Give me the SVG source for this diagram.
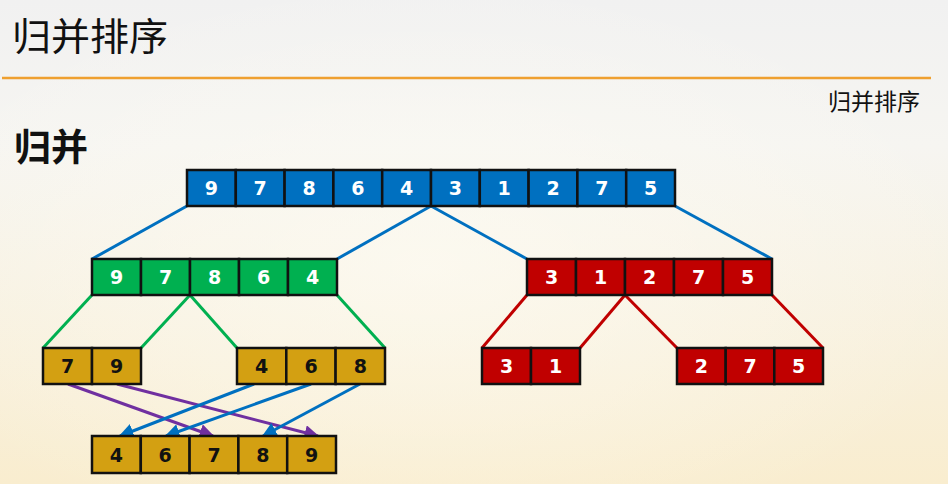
<svg xmlns="http://www.w3.org/2000/svg" width="948" height="484" viewBox="0 0 948 484">
<defs>
<linearGradient id="bg" x1="0" y1="0" x2="0" y2="1">
<stop offset="0" stop-color="#f1f1f1"/>
<stop offset="0.3" stop-color="#f6f5f1"/>
<stop offset="1" stop-color="#f9edcf"/>
</linearGradient>
<radialGradient id="glow" cx="0.45" cy="0.55" r="0.6">
<stop offset="0" stop-color="#fffdf5" stop-opacity="0.6"/>
<stop offset="1" stop-color="#fffdf5" stop-opacity="0"/>
</radialGradient>
<marker id="ab" viewBox="0 0 10 10" refX="9" refY="5" markerWidth="5" markerHeight="5" orient="auto" markerUnits="strokeWidth">
<path d="M0,0 L10,5 L0,10 z" fill="#0070C0"/>
</marker>
<marker id="ap" viewBox="0 0 10 10" refX="9" refY="5" markerWidth="5" markerHeight="5" orient="auto" markerUnits="strokeWidth">
<path d="M0,0 L10,5 L0,10 z" fill="#7030A0"/>
</marker>
</defs>
<style>
.c rect{stroke:#111;stroke-width:2.5}
.blue rect{fill:#0070C0}
.green rect{fill:#00B050}
.red rect{fill:#C00000}
.gold rect{fill:#D3A012}
.c text{font-family:'DejaVu Sans',sans-serif;font-weight:700;font-size:19px;text-anchor:middle}
.blue text,.green text,.red text{fill:#fff}
.gold text{fill:#111}
.lb{stroke:#0070C0;stroke-width:3;fill:none}
.lg{stroke:#00B050;stroke-width:3;fill:none}
.lr{stroke:#C00000;stroke-width:3;fill:none}
.lp{stroke:#7030A0;stroke-width:3;fill:none}
</style>
<rect width="948" height="484" fill="url(#bg)"/>
<rect width="948" height="484" fill="url(#glow)"/>
<g id="header">
<text x="12" y="50" font-family="Noto Sans CJK SC, sans-serif" font-size="38" font-weight="400" fill="#111" textLength="156" lengthAdjust="spacingAndGlyphs">归并排序</text>
<line x1="2" y1="78" x2="931" y2="78" stroke="#EFA030" stroke-width="2.5"/>
<text x="920" y="110" text-anchor="end" font-family="Noto Sans CJK SC, sans-serif" font-size="23" fill="#111">归并排序</text>
<text x="14" y="161" font-family="Noto Sans CJK SC, sans-serif" font-size="37" font-weight="bold" fill="#111">归并</text>
</g>
<g id="connectors">
<line class="lb" x1="187" y1="206" x2="92" y2="259"/>
<line class="lb" x1="431" y1="206" x2="337" y2="259"/>
<line class="lb" x1="431" y1="206" x2="527" y2="259"/>
<line class="lb" x1="675" y1="206" x2="772" y2="259"/>
<line class="lg" x1="92" y1="295" x2="43" y2="348"/>
<line class="lg" x1="190" y1="295" x2="141" y2="348"/>
<line class="lg" x1="190" y1="295" x2="237" y2="348"/>
<line class="lg" x1="337" y1="295" x2="385" y2="348"/>
<line class="lr" x1="527" y1="295" x2="482" y2="348"/>
<line class="lr" x1="625" y1="295" x2="580" y2="348"/>
<line class="lr" x1="625" y1="295" x2="677" y2="348"/>
<line class="lr" x1="772" y1="295" x2="823" y2="348"/>
<line class="lp" x1="68" y1="384" x2="213" y2="436" marker-end="url(#ap)"/>
<line class="lp" x1="117" y1="384" x2="318" y2="436" marker-end="url(#ap)"/>
<line class="lb" x1="254" y1="384" x2="120" y2="436" marker-end="url(#ab)"/>
<line class="lb" x1="311" y1="384" x2="166" y2="436" marker-end="url(#ab)"/>
<line class="lb" x1="360" y1="384" x2="263" y2="436" marker-end="url(#ab)"/>
</g>
<g id="row-top" class="c blue">
<rect x="187" y="170" width="48.8" height="36"/><text x="211.4" y="195">9</text>
<rect x="235.8" y="170" width="48.8" height="36"/><text x="260.2" y="195">7</text>
<rect x="284.6" y="170" width="48.8" height="36"/><text x="309" y="195">8</text>
<rect x="333.4" y="170" width="48.8" height="36"/><text x="357.8" y="195">6</text>
<rect x="382.2" y="170" width="48.8" height="36"/><text x="406.6" y="195">4</text>
<rect x="431" y="170" width="48.8" height="36"/><text x="455.4" y="195">3</text>
<rect x="479.8" y="170" width="48.8" height="36"/><text x="504.2" y="195">1</text>
<rect x="528.6" y="170" width="48.8" height="36"/><text x="553" y="195">2</text>
<rect x="577.4" y="170" width="48.8" height="36"/><text x="601.8" y="195">7</text>
<rect x="626.2" y="170" width="48.8" height="36"/><text x="650.6" y="195">5</text>
</g>
<g id="row-green" class="c green">
<rect x="92" y="259" width="49" height="36"/><text x="116.5" y="284">9</text>
<rect x="141" y="259" width="49" height="36"/><text x="165.5" y="284">7</text>
<rect x="190" y="259" width="49" height="36"/><text x="214.5" y="284">8</text>
<rect x="239" y="259" width="49" height="36"/><text x="263.5" y="284">6</text>
<rect x="288" y="259" width="49" height="36"/><text x="312.5" y="284">4</text>
</g>
<g id="row-red" class="c red">
<rect x="527" y="259" width="49" height="36"/><text x="551.5" y="284">3</text>
<rect x="576" y="259" width="49" height="36"/><text x="600.5" y="284">1</text>
<rect x="625" y="259" width="49" height="36"/><text x="649.5" y="284">2</text>
<rect x="674" y="259" width="49" height="36"/><text x="698.5" y="284">7</text>
<rect x="723" y="259" width="49" height="36"/><text x="747.5" y="284">5</text>
</g>
<g id="row-79" class="c gold">
<rect x="43" y="348" width="49" height="36"/><text x="67.5" y="373">7</text>
<rect x="92" y="348" width="49" height="36"/><text x="116.5" y="373">9</text>
</g>
<g id="row-468" class="c gold">
<rect x="237" y="348" width="49.3" height="36"/><text x="261.7" y="373">4</text>
<rect x="286.3" y="348" width="49.3" height="36"/><text x="311" y="373">6</text>
<rect x="335.6" y="348" width="49.4" height="36"/><text x="360.3" y="373">8</text>
</g>
<g id="row-31" class="c red">
<rect x="482" y="348" width="49" height="36"/><text x="506.5" y="373">3</text>
<rect x="531" y="348" width="49" height="36"/><text x="555.5" y="373">1</text>
</g>
<g id="row-275" class="c red">
<rect x="677" y="348" width="48.7" height="36"/><text x="701.3" y="373">2</text>
<rect x="725.7" y="348" width="48.7" height="36"/><text x="750" y="373">7</text>
<rect x="774.3" y="348" width="48.7" height="36"/><text x="798.7" y="373">5</text>
</g>
<g id="row-bottom" class="c gold">
<rect x="92" y="436" width="48.8" height="37"/><text x="116.4" y="461.5">4</text>
<rect x="140.8" y="436" width="48.8" height="37"/><text x="165.2" y="461.5">6</text>
<rect x="189.6" y="436" width="48.8" height="37"/><text x="214" y="461.5">7</text>
<rect x="238.4" y="436" width="48.8" height="37"/><text x="262.8" y="461.5">8</text>
<rect x="287.2" y="436" width="48.8" height="37"/><text x="311.6" y="461.5">9</text>
</g>
</svg>
